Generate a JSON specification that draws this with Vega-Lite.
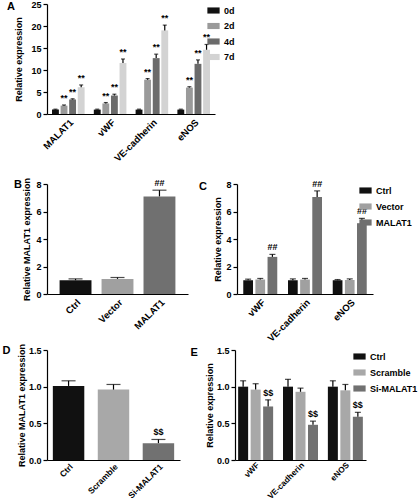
{
  "$schema": "https://vega.github.io/schema/vega-lite/v6.json",
  "padding": {"left": 2, "top": 0, "right": 0, "bottom": 0},
  "background": "white",
  "config": {
    "font": "Liberation Sans",
    "view": {"stroke": null},
    "axis": {"labelFont": "Liberation Sans", "labelFontWeight": "bold", "labelFontSize": 9, "labelColor": "black", "titleFont": "Liberation Sans", "titleFontWeight": "bold", "titleFontSize": 9, "titleColor": "black", "domainColor": "black", "domainWidth": 1.2, "tickColor": "black", "tickWidth": 1.2, "tickSize": 4, "grid": false},
    "axisX": {"labelAngle": -45, "ticks": false, "labelPadding": 3, "title": null, "labelFontSize": 9.5},
    "legend": {"labelFont": "Liberation Sans", "labelFontWeight": "bold", "labelFontSize": 9, "labelColor": "black", "symbolType": "M-1,-0.5H1V0.5H-1Z", "symbolSize": 150, "symbolStrokeWidth": 0, "symbolOpacity": 1, "rowPadding": 4, "title": null},
    "title": {"anchor": "start", "frame": "bounds", "fontSize": 11, "fontWeight": "bold", "font": "Liberation Sans", "color": "black", "offset": -12},
    "text": {"font": "Liberation Sans"}
  },
  "datasets": {
    "a": [
      {"g": "MALAT1", "s": "0d", "v": 1.0, "hi": 1.1, "sig": ""},
      {"g": "MALAT1", "s": "2d", "v": 1.9, "hi": 2.05, "sig": "**"},
      {"g": "MALAT1", "s": "4d", "v": 3.3, "hi": 3.45, "sig": "**"},
      {"g": "MALAT1", "s": "7d", "v": 6.1, "hi": 6.6, "sig": "**"},
      {"g": "vWF", "s": "0d", "v": 1.0, "hi": 1.1, "sig": ""},
      {"g": "vWF", "s": "2d", "v": 2.4, "hi": 2.6, "sig": "**"},
      {"g": "vWF", "s": "4d", "v": 4.2, "hi": 4.5, "sig": "**"},
      {"g": "vWF", "s": "7d", "v": 11.6, "hi": 12.5, "sig": "**"},
      {"g": "VE-cadherin", "s": "0d", "v": 1.0, "hi": 1.1, "sig": ""},
      {"g": "VE-cadherin", "s": "2d", "v": 7.8, "hi": 8.05, "sig": "**"},
      {"g": "VE-cadherin", "s": "4d", "v": 12.7, "hi": 13.6, "sig": "**"},
      {"g": "VE-cadherin", "s": "7d", "v": 19.0, "hi": 20.2, "sig": "**"},
      {"g": "eNOS", "s": "0d", "v": 1.0, "hi": 1.1, "sig": ""},
      {"g": "eNOS", "s": "2d", "v": 6.0, "hi": 6.2, "sig": "**"},
      {"g": "eNOS", "s": "4d", "v": 11.4, "hi": 12.3, "sig": "**"},
      {"g": "eNOS", "s": "7d", "v": 14.6, "hi": 15.8, "sig": "**"}
    ],
    "b": [
      {"s": "Ctrl", "v": 1.0, "hi": 1.1, "sig": ""},
      {"s": "Vector", "v": 1.1, "hi": 1.2, "sig": ""},
      {"s": "MALAT1", "v": 7.1, "hi": 7.55, "sig": "##"}
    ],
    "c": [
      {"g": "vWF", "s": "Ctrl", "v": 1.0, "hi": 1.08, "sig": ""},
      {"g": "vWF", "s": "Vector", "v": 1.05, "hi": 1.13, "sig": ""},
      {"g": "vWF", "s": "MALAT1", "v": 2.7, "hi": 2.88, "sig": "##"},
      {"g": "VE-cadherin", "s": "Ctrl", "v": 1.0, "hi": 1.1, "sig": ""},
      {"g": "VE-cadherin", "s": "Vector", "v": 1.05, "hi": 1.13, "sig": ""},
      {"g": "VE-cadherin", "s": "MALAT1", "v": 7.05, "hi": 7.5, "sig": "##"},
      {"g": "eNOS", "s": "Ctrl", "v": 1.0, "hi": 1.05, "sig": ""},
      {"g": "eNOS", "s": "Vector", "v": 1.02, "hi": 1.1, "sig": ""},
      {"g": "eNOS", "s": "MALAT1", "v": 5.15, "hi": 5.5, "sig": "##"}
    ],
    "d": [
      {"s": "Ctrl", "v": 1.01, "hi": 1.08, "sig": ""},
      {"s": "Scramble", "v": 0.96, "hi": 1.03, "sig": ""},
      {"s": "Si-MALAT1", "v": 0.23, "hi": 0.28, "sig": "$$"}
    ],
    "e": [
      {"g": "vWF", "s": "Ctrl", "v": 1.0, "hi": 1.08, "sig": ""},
      {"g": "vWF", "s": "Scramble", "v": 0.96, "hi": 1.04, "sig": ""},
      {"g": "vWF", "s": "Si-MALAT1", "v": 0.73, "hi": 0.82, "sig": "$$"},
      {"g": "VE-cadherin", "s": "Ctrl", "v": 1.0, "hi": 1.1, "sig": ""},
      {"g": "VE-cadherin", "s": "Scramble", "v": 0.93, "hi": 0.98, "sig": ""},
      {"g": "VE-cadherin", "s": "Si-MALAT1", "v": 0.48, "hi": 0.53, "sig": "$$"},
      {"g": "eNOS", "s": "Ctrl", "v": 1.0, "hi": 1.08, "sig": ""},
      {"g": "eNOS", "s": "Scramble", "v": 0.95, "hi": 1.03, "sig": ""},
      {"g": "eNOS", "s": "Si-MALAT1", "v": 0.59, "hi": 0.65, "sig": "$$"}
    ]
  },
  "vconcat": [
    {
      "title": {"text": "A", "dx": -8},
      "width": 168, "height": 110,
      "data": {"name": "a"},
      "encoding": {
        "x": {"field": "g", "type": "nominal", "sort": ["MALAT1", "vWF", "VE-cadherin", "eNOS"], "scale": {"paddingInner": 0.22, "paddingOuter": 0.12}, "title": null},
        "xOffset": {"field": "s", "type": "nominal", "sort": ["0d", "2d", "4d", "7d"], "scale": {"paddingInner": 0.2}}
      },
      "layer": [
        {"mark": {"type": "bar"}, "encoding": {"y": {"field": "v", "type": "quantitative", "scale": {"domain": [0, 25]}, "axis": {"values": [0, 5, 10, 15, 20, 25], "titlePadding": 7}, "title": "Relative expression"}, "color": {"field": "s", "type": "nominal", "sort": ["0d", "2d", "4d", "7d"], "scale": {"domain": ["0d", "2d", "4d", "7d"], "range": ["#111111", "#9a9a9a", "#6b6b6b", "#d3d3d3"]}, "legend": {"title": null, "offset": -8, "rowPadding": 3.5}}}},
        {"mark": {"type": "rule", "color": "black", "strokeWidth": 1.2}, "encoding": {"y": {"field": "v", "type": "quantitative", "scale": {"domain": [0, 25]}, "axis": {"values": [0, 5, 10, 15, 20, 25], "titlePadding": 7}, "title": "Relative expression"}, "y2": {"field": "hi"}}},
        {"mark": {"type": "tick", "color": "black", "thickness": 1.2, "size": 4}, "encoding": {"y": {"field": "hi", "type": "quantitative", "scale": {"domain": [0, 25]}, "axis": {"values": [0, 5, 10, 15, 20, 25], "titlePadding": 7}, "title": "Relative expression"}}},
        {"mark": {"type": "text", "dy": -2, "baseline": "bottom", "fontWeight": "bold", "fontSize": 9, "color": "black"}, "encoding": {"y": {"field": "hi", "type": "quantitative", "scale": {"domain": [0, 25]}, "axis": {"values": [0, 5, 10, 15, 20, 25], "titlePadding": 7}, "title": "Relative expression"}, "text": {"field": "sig"}}}
      ]
    },
    {
      "vconcat": [
        {
          "hconcat": [
            {
              "title": {"text": "B", "dx": -9},
              "width": 141, "height": 110,
              "data": {"name": "b"},
              "encoding": {
                "x": {"field": "s", "type": "nominal", "sort": ["Ctrl", "Vector", "MALAT1"], "scale": {"paddingInner": 0.24, "paddingOuter": 0.3}, "title": null}
              },
              "layer": [
                {"mark": {"type": "bar"}, "encoding": {"y": {"field": "v", "type": "quantitative", "scale": {"domain": [0, 8]}, "axis": {"values": [0, 2, 4, 6, 8], "titlePadding": 4}, "title": "Relative MALAT1 expression"}, "color": {"field": "s", "type": "nominal", "scale": {"domain": ["Ctrl", "Vector", "MALAT1"], "range": ["#111111", "#a0a0a0", "#707070"]}, "legend": null}}},
                {"mark": {"type": "rule", "color": "black", "strokeWidth": 1.2}, "encoding": {"y": {"field": "v", "type": "quantitative", "scale": {"domain": [0, 8]}, "axis": {"values": [0, 2, 4, 6, 8], "titlePadding": 4}, "title": "Relative MALAT1 expression"}, "y2": {"field": "hi"}}},
                {"mark": {"type": "tick", "color": "black", "thickness": 1.2, "size": 14}, "encoding": {"y": {"field": "hi", "type": "quantitative", "scale": {"domain": [0, 8]}, "axis": {"values": [0, 2, 4, 6, 8], "titlePadding": 4}, "title": "Relative MALAT1 expression"}}},
                {"mark": {"type": "text", "dy": -2, "baseline": "bottom", "fontWeight": "bold", "fontSize": 9, "color": "black"}, "encoding": {"y": {"field": "hi", "type": "quantitative", "scale": {"domain": [0, 8]}, "axis": {"values": [0, 2, 4, 6, 8], "titlePadding": 4}, "title": "Relative MALAT1 expression"}, "text": {"field": "sig"}}}
              ]
            },
            {
              "title": {"text": "C", "dx": -15},
              "width": 136, "height": 110,
              "data": {"name": "c"},
              "encoding": {
                "x": {"field": "g", "type": "nominal", "sort": ["vWF", "VE-cadherin", "eNOS"], "scale": {"paddingInner": 0.24, "paddingOuter": 0.14}, "title": null},
                "xOffset": {"field": "s", "type": "nominal", "sort": ["Ctrl", "Vector", "MALAT1"], "scale": {"paddingInner": 0.2}}
              },
              "layer": [
                {"mark": {"type": "bar"}, "encoding": {"y": {"field": "v", "type": "quantitative", "scale": {"domain": [0, 8]}, "axis": {"values": [0, 2, 4, 6, 8], "titlePadding": 3}, "title": "Relative expression"}, "color": {"field": "s", "type": "nominal", "sort": ["Ctrl", "Vector", "MALAT1"], "scale": {"domain": ["Ctrl", "Vector", "MALAT1"], "range": ["#111111", "#a0a0a0", "#707070"]}, "legend": {"title": null, "offset": -14}}}},
                {"mark": {"type": "rule", "color": "black", "strokeWidth": 1.2}, "encoding": {"y": {"field": "v", "type": "quantitative", "scale": {"domain": [0, 8]}, "axis": {"values": [0, 2, 4, 6, 8], "titlePadding": 3}, "title": "Relative expression"}, "y2": {"field": "hi"}}},
                {"mark": {"type": "tick", "color": "black", "thickness": 1.2, "size": 6}, "encoding": {"y": {"field": "hi", "type": "quantitative", "scale": {"domain": [0, 8]}, "axis": {"values": [0, 2, 4, 6, 8], "titlePadding": 3}, "title": "Relative expression"}}},
                {"mark": {"type": "text", "dy": -2, "baseline": "bottom", "fontWeight": "bold", "fontSize": 9, "color": "black"}, "encoding": {"y": {"field": "hi", "type": "quantitative", "scale": {"domain": [0, 8]}, "axis": {"values": [0, 2, 4, 6, 8], "titlePadding": 3}, "title": "Relative expression"}, "text": {"field": "sig"}}}
              ]
            }
          ],
          "spacing": 10,
          "resolve": {"scale": {"x": "independent", "y": "independent", "color": "independent", "xOffset": "independent"}, "legend": {"color": "independent"}, "axis": {"x": "independent", "y": "independent"}}
        },
        {
          "hconcat": [
            {
              "title": {"text": "D", "dx": -15},
              "width": 133, "height": 110,
              "data": {"name": "d"},
              "encoding": {
                "x": {"field": "s", "type": "nominal", "sort": ["Ctrl", "Scramble", "Si-MALAT1"], "scale": {"paddingInner": 0.3, "paddingOuter": 0.13}, "title": null, "axis": {"labelFontSize": 8.5, "labelPadding": 2}}
              },
              "layer": [
                {"mark": {"type": "bar"}, "encoding": {"y": {"field": "v", "type": "quantitative", "scale": {"domain": [0, 1.5]}, "axis": {"values": [0, 0.5, 1, 1.5], "format": ".1f", "titlePadding": 2}, "title": "Relative MALAT1 expression"}, "color": {"field": "s", "type": "nominal", "scale": {"domain": ["Ctrl", "Scramble", "Si-MALAT1"], "range": ["#111111", "#a8a8a8", "#717171"]}, "legend": null}}},
                {"mark": {"type": "rule", "color": "black", "strokeWidth": 1.2}, "encoding": {"y": {"field": "v", "type": "quantitative", "scale": {"domain": [0, 1.5]}, "axis": {"values": [0, 0.5, 1, 1.5], "format": ".1f", "titlePadding": 2}, "title": "Relative MALAT1 expression"}, "y2": {"field": "hi"}}},
                {"mark": {"type": "tick", "color": "black", "thickness": 1.2, "size": 14}, "encoding": {"y": {"field": "hi", "type": "quantitative", "scale": {"domain": [0, 1.5]}, "axis": {"values": [0, 0.5, 1, 1.5], "format": ".1f", "titlePadding": 2}, "title": "Relative MALAT1 expression"}}},
                {"mark": {"type": "text", "dy": -2, "baseline": "bottom", "fontWeight": "bold", "fontSize": 9, "color": "black"}, "encoding": {"y": {"field": "hi", "type": "quantitative", "scale": {"domain": [0, 1.5]}, "axis": {"values": [0, 0.5, 1, 1.5], "format": ".1f", "titlePadding": 2}, "title": "Relative MALAT1 expression"}, "text": {"field": "sig"}}}
              ]
            },
            {
              "title": {"text": "E", "dx": -15},
              "width": 131, "height": 110,
              "data": {"name": "e"},
              "encoding": {
                "x": {"field": "g", "type": "nominal", "sort": ["vWF", "VE-cadherin", "eNOS"], "scale": {"paddingInner": 0.22, "paddingOuter": 0.07}, "title": null, "axis": {"labelFontSize": 8.2, "labelPadding": 1}},
                "xOffset": {"field": "s", "type": "nominal", "sort": ["Ctrl", "Scramble", "Si-MALAT1"], "scale": {"paddingInner": 0.2}}
              },
              "layer": [
                {"mark": {"type": "bar"}, "encoding": {"y": {"field": "v", "type": "quantitative", "scale": {"domain": [0, 1.5]}, "axis": {"values": [0, 0.5, 1, 1.5], "format": ".1f", "titlePadding": 2}, "title": "Relative expression"}, "color": {"field": "s", "type": "nominal", "sort": ["Ctrl", "Scramble", "Si-MALAT1"], "scale": {"domain": ["Ctrl", "Scramble", "Si-MALAT1"], "range": ["#111111", "#a8a8a8", "#717171"]}, "legend": {"title": null, "offset": -13}}}},
                {"mark": {"type": "rule", "color": "black", "strokeWidth": 1.2}, "encoding": {"y": {"field": "v", "type": "quantitative", "scale": {"domain": [0, 1.5]}, "axis": {"values": [0, 0.5, 1, 1.5], "format": ".1f", "titlePadding": 2}, "title": "Relative expression"}, "y2": {"field": "hi"}}},
                {"mark": {"type": "tick", "color": "black", "thickness": 1.2, "size": 6}, "encoding": {"y": {"field": "hi", "type": "quantitative", "scale": {"domain": [0, 1.5]}, "axis": {"values": [0, 0.5, 1, 1.5], "format": ".1f", "titlePadding": 2}, "title": "Relative expression"}}},
                {"mark": {"type": "text", "dy": -2, "baseline": "bottom", "fontWeight": "bold", "fontSize": 9, "color": "black"}, "encoding": {"y": {"field": "hi", "type": "quantitative", "scale": {"domain": [0, 1.5]}, "axis": {"values": [0, 0.5, 1, 1.5], "format": ".1f", "titlePadding": 2}, "title": "Relative expression"}, "text": {"field": "sig"}}}
              ]
            }
          ],
          "spacing": 10,
          "resolve": {"scale": {"x": "independent", "y": "independent", "color": "independent", "xOffset": "independent"}, "legend": {"color": "independent"}, "axis": {"x": "independent", "y": "independent"}}
        }
      ],
      "spacing": 0,
      "resolve": {"scale": {"x": "independent", "y": "independent", "color": "independent", "xOffset": "independent"}, "legend": {"color": "independent"}, "axis": {"x": "independent", "y": "independent"}}
    }
  ],
  "spacing": 14,
  "resolve": {"scale": {"x": "independent", "y": "independent", "color": "independent", "xOffset": "independent"}, "legend": {"color": "independent"}, "axis": {"x": "independent", "y": "independent"}}
}
